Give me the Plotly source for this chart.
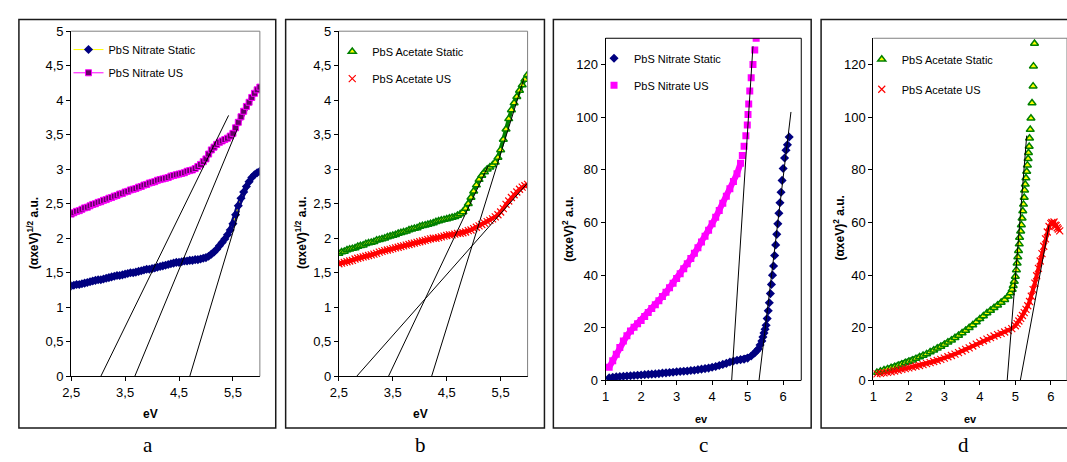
import plotly.graph_objects as go

W, H = 1067, 462

# ---------------- Panel a data ----------------
a_x = [2.50, 2.55, 2.60, 2.65, 2.70, 2.75, 2.80, 2.85, 2.90, 2.95,
       3.00, 3.05, 3.10, 3.15, 3.20, 3.25, 3.30, 3.35, 3.40, 3.45,
       3.50, 3.55, 3.60, 3.65, 3.70, 3.75, 3.80, 3.85, 3.90, 3.95,
       4.00, 4.05, 4.10, 4.15, 4.20, 4.25, 4.30, 4.35, 4.40, 4.45,
       4.50, 4.55, 4.60, 4.65, 4.70, 4.75, 4.80, 4.85, 4.90, 4.95,
       5.00, 5.05, 5.10, 5.15, 5.20, 5.25, 5.30, 5.35, 5.40, 5.45,
       5.50, 5.55, 5.60, 5.65, 5.70, 5.75, 5.80, 5.85, 5.90, 5.95, 6.00]
a_static = [1.31, 1.32, 1.33, 1.33, 1.34, 1.35, 1.36, 1.37, 1.38, 1.39,
            1.40, 1.40, 1.41, 1.42, 1.43, 1.44, 1.45, 1.46, 1.46, 1.47,
            1.48, 1.49, 1.50, 1.50, 1.51, 1.52, 1.53, 1.54, 1.55, 1.55,
            1.56, 1.57, 1.58, 1.59, 1.60, 1.61, 1.62, 1.63, 1.64, 1.65,
            1.65, 1.66, 1.67, 1.67, 1.68, 1.68, 1.69, 1.69, 1.70, 1.71,
            1.72, 1.74, 1.77, 1.80, 1.84, 1.89, 1.94, 1.99, 2.05, 2.12,
            2.21, 2.34, 2.47, 2.58, 2.67, 2.75, 2.82, 2.88, 2.92, 2.95, 2.97]
a_us = [2.35, 2.37, 2.39, 2.40, 2.42, 2.44, 2.45, 2.47, 2.49, 2.50,
        2.52, 2.53, 2.55, 2.56, 2.58, 2.59, 2.61, 2.62, 2.64, 2.65,
        2.67, 2.68, 2.70, 2.71, 2.72, 2.74, 2.75, 2.77, 2.78, 2.80,
        2.81, 2.82, 2.84, 2.85, 2.86, 2.87, 2.88, 2.90, 2.91, 2.92,
        2.93, 2.94, 2.95, 2.97, 2.98, 2.99, 3.01, 3.04, 3.07, 3.11,
        3.15, 3.22, 3.28, 3.32, 3.36, 3.39, 3.41, 3.43, 3.45, 3.48,
        3.52, 3.60, 3.68, 3.76, 3.84, 3.91, 3.97, 4.04, 4.10, 4.15, 4.19]
a_fit_x = [[3.05, 5.42], [3.68, 5.58], [4.70, 5.62]]
a_fit_y = [[0.0, 3.78], [0.0, 3.58], [0.0, 2.40]]
a_yticks = [0, 0.5, 1, 1.5, 2, 2.5, 3, 3.5, 4, 4.5, 5]
a_yticklabels = ["0", "0,5", "1", "1,5", "2", "2,5", "3", "3,5", "4", "4,5", "5"]
ab_xticks = [2.5, 3.5, 4.5, 5.5]
ab_xticklabels = ["2,5", "3,5", "4,5", "5,5"]

# ---------------- Panel b data ----------------
b_x = a_x
b_static = [1.78, 1.80, 1.81, 1.83, 1.84, 1.85, 1.86, 1.88, 1.89, 1.90,
            1.92, 1.93, 1.94, 1.95, 1.97, 1.98, 1.99, 2.00, 2.02, 2.03,
            2.04, 2.05, 2.07, 2.08, 2.09, 2.10, 2.12, 2.13, 2.14, 2.15,
            2.17, 2.18, 2.19, 2.20, 2.21, 2.22, 2.24, 2.25, 2.26, 2.27,
            2.28, 2.29, 2.30, 2.31, 2.33, 2.35, 2.38, 2.43, 2.50, 2.59,
            2.68, 2.77, 2.85, 2.91, 2.96, 3.00, 3.03, 3.06, 3.10, 3.17,
            3.28, 3.43, 3.58, 3.73, 3.86, 3.96, 4.05, 4.14, 4.22, 4.30, 4.37]
b_us = [1.63, 1.64, 1.65, 1.66, 1.67, 1.68, 1.70, 1.71, 1.72, 1.73,
        1.74, 1.75, 1.76, 1.77, 1.78, 1.80, 1.81, 1.82, 1.83, 1.84,
        1.85, 1.86, 1.87, 1.88, 1.89, 1.90, 1.91, 1.92, 1.93, 1.94,
        1.95, 1.96, 1.97, 1.98, 1.99, 2.00, 2.00, 2.01, 2.02, 2.03,
        2.04, 2.05, 2.05, 2.06, 2.07, 2.07, 2.08, 2.09, 2.11, 2.12,
        2.14, 2.16, 2.18, 2.20, 2.22, 2.24, 2.26, 2.28, 2.31, 2.34,
        2.38, 2.43, 2.49, 2.54, 2.59, 2.63, 2.67, 2.71, 2.74, 2.76, 2.78]
b_fit_x = [[2.83, 6.00], [3.42, 5.27], [4.22, 5.93]]
b_fit_y = [[0.0, 2.80], [0.0, 3.05], [0.0, 4.31]]

# ---------------- Panel c data ----------------
c_us_x = [1.1, 1.2, 1.3, 1.4, 1.5, 1.6, 1.7, 1.8, 1.9, 2.0,
          2.1, 2.2, 2.3, 2.4, 2.5, 2.6, 2.7, 2.8, 2.9, 3.0,
          3.1, 3.2, 3.3, 3.4, 3.5, 3.6, 3.7, 3.8, 3.9, 4.0,
          4.1, 4.2, 4.3, 4.4, 4.5, 4.6, 4.7, 4.8, 4.85, 4.9,
          4.95, 4.99, 5.01, 5.03, 5.06, 5.10, 5.15, 5.20, 5.24]
c_us = [5.0, 7.5, 10.0, 12.5, 15.0, 17.0, 18.8, 20.2, 21.5, 22.8,
        24.3, 25.8, 27.3, 28.8, 30.3, 31.9, 33.5, 35.2, 36.9, 38.7,
        40.5, 42.4, 44.3, 46.3, 48.3, 50.4, 52.6, 54.8, 57.1, 59.5,
        62.0, 64.6, 67.3, 70.0, 72.8, 75.6, 78.5, 82.5, 85.5, 89.0,
        93.0, 97.0, 101.0, 105.0, 110.0, 115.0, 120.0, 125.5, 130.0]
c_st_x = [1.1, 1.2, 1.3, 1.4, 1.5, 1.6, 1.7, 1.8, 1.9, 2.0,
          2.1, 2.2, 2.3, 2.4, 2.5, 2.6, 2.7, 2.8, 2.9, 3.0,
          3.1, 3.2, 3.3, 3.4, 3.5, 3.6, 3.7, 3.8, 3.9, 4.0,
          4.1, 4.2, 4.3, 4.4, 4.5, 4.6, 4.7, 4.8, 4.9, 5.0,
          5.1, 5.2, 5.25, 5.30, 5.35, 5.40, 5.43, 5.46, 5.49, 5.52,
          5.55, 5.58, 5.61, 5.64, 5.67, 5.70, 5.73, 5.76, 5.79, 5.82,
          5.85, 5.88, 5.91, 5.94, 5.97, 6.00, 6.04, 6.08, 6.12, 6.17]
c_static = [1.0, 1.2, 1.4, 1.5, 1.6, 1.7, 1.8, 1.9, 2.0, 2.1,
            2.2, 2.3, 2.4, 2.5, 2.6, 2.8, 2.9, 3.0, 3.1, 3.3,
            3.4, 3.5, 3.6, 3.8, 3.9, 4.1, 4.3, 4.5, 4.7, 5.0,
            5.3, 5.7, 6.1, 6.5, 7.0, 7.4, 7.7, 7.9, 8.1, 8.5,
            9.3, 10.5, 11.2, 12.0, 13.5, 15.0, 16.5, 18.0, 19.5, 21.0,
            23.5, 26.5, 29.5, 33.0, 36.5, 40.0, 43.5, 47.5, 51.5, 55.5,
            59.5, 63.5, 67.5, 71.5, 76.0, 80.5, 84.5, 87.5, 89.5, 92.5]
c_fit_x = [[4.55, 5.15], [5.32, 6.22]]
c_fit_y = [[0.0, 127.0], [0.0, 102.0]]
cd_yticks = [0, 20, 40, 60, 80, 100, 120]
cd_xticks = [1, 2, 3, 4, 5, 6]

# ---------------- Panel d data ----------------
d_st_x = [1.1, 1.2, 1.3, 1.4, 1.5, 1.6, 1.7, 1.8, 1.9, 2.0,
          2.1, 2.2, 2.3, 2.4, 2.5, 2.6, 2.7, 2.8, 2.9, 3.0,
          3.1, 3.2, 3.3, 3.4, 3.5, 3.6, 3.7, 3.8, 3.9, 4.0,
          4.1, 4.2, 4.3, 4.4, 4.5, 4.6, 4.7, 4.8, 4.86, 4.91,
          4.94, 4.97, 5.00, 5.03, 5.05, 5.07, 5.09, 5.11, 5.12, 5.15,
          5.17, 5.19, 5.21, 5.23, 5.25, 5.26, 5.28, 5.30, 5.32, 5.34,
          5.36, 5.37, 5.39, 5.40, 5.42, 5.44, 5.47, 5.50, 5.51, 5.54]
d_static = [3.0, 3.5, 4.0, 4.4, 4.8, 5.2, 5.7, 6.2, 6.7, 7.2,
            7.7, 8.3, 8.9, 9.5, 10.1, 10.8, 11.5, 12.2, 12.9, 13.7,
            14.5, 15.3, 16.2, 17.1, 18.0, 19.0, 20.0, 21.1, 22.2, 23.4,
            24.5, 25.6, 26.6, 27.6, 28.6, 29.6, 30.7, 32.0, 33.2, 34.6,
            36.0, 37.6, 39.5, 42.0, 44.5, 46.9, 49.3, 51.8, 54.3, 56.7,
            59.1, 61.6, 64.4, 66.9, 69.5, 72.3, 74.5, 76.9, 79.4, 81.8,
            84.2, 86.5, 88.9, 92.0, 95.3, 99.6, 105.4, 111.8, 119.4, 128.0]
d_us_x = [1.1, 1.2, 1.3, 1.4, 1.5, 1.6, 1.7, 1.8, 1.9, 2.0,
          2.1, 2.2, 2.3, 2.4, 2.5, 2.6, 2.7, 2.8, 2.9, 3.0,
          3.1, 3.2, 3.3, 3.4, 3.5, 3.6, 3.7, 3.8, 3.9, 4.0,
          4.1, 4.2, 4.3, 4.4, 4.5, 4.6, 4.7, 4.8, 4.9, 5.0,
          5.05, 5.10, 5.15, 5.20, 5.25, 5.30, 5.35, 5.40, 5.45, 5.50,
          5.55, 5.60, 5.65, 5.70, 5.75, 5.80, 5.85, 5.90, 5.95, 6.00,
          6.03, 6.06, 6.09, 6.12, 6.15, 6.18, 6.21, 6.25]
d_us = [2.5, 2.7, 2.9, 3.1, 3.3, 3.6, 3.9, 4.2, 4.5, 4.8,
        5.1, 5.4, 5.7, 6.0, 6.4, 6.8, 7.2, 7.6, 8.0, 8.5,
        9.0, 9.5, 10.0, 10.6, 11.2, 11.8, 12.4, 13.1, 13.8, 14.5,
        15.1, 15.7, 16.3, 16.9, 17.4, 17.9, 18.4, 19.0, 19.7, 20.8,
        21.6, 22.6, 23.6, 24.7, 25.8, 27.0, 28.4, 30.0, 32.0, 34.5,
        37.0, 39.8, 42.6, 45.4, 48.2, 51.0, 53.8, 56.4, 58.5, 59.6,
        60.0, 59.5, 60.2, 59.0, 58.8, 58.0, 57.5, 56.8]
d_fit_x = [[4.77, 5.32], [5.14, 5.95]]
d_fit_y = [[0.0, 93.0], [0.0, 59.0]]

# ---------------- helpers ----------------
def px(x):
    return x / W

def py(y):
    return 1 - y / H

NAVY = "#000080"
MAG = "#FF00FF"
GREEN = "#008000"
RED = "#FF0000"
YEL = "#FFFF00"
FONT = "Liberation Sans, Arial, sans-serif"

fig = go.Figure()

def fits(xs, ys, xa, ya):
    for fx, fy in zip(xs, ys):
        fig.add_trace(go.Scatter(x=fx, y=fy, mode="lines", xaxis=xa, yaxis=ya,
                                 line=dict(color="black", width=1), showlegend=False,
                                 hoverinfo="skip"))

def band(xs, ys, xa, ya, color, width):
    # dense markers in the original merge into a solid band
    fig.add_trace(go.Scatter(x=xs, y=ys, mode="lines", xaxis=xa, yaxis=ya,
                             line=dict(color=color, width=width), showlegend=False,
                             hoverinfo="skip"))

# panel a
band(a_x, a_static, "x", "y", NAVY, 5)
band(a_x, a_us, "x", "y", "#6a006a", 5)
fig.add_trace(go.Scatter(x=a_x, y=a_static, mode="lines+markers", name="PbS Nitrate Static",
                         xaxis="x", yaxis="y", legend="legend",
                         line=dict(color=YEL, width=1),
                         marker=dict(symbol="diamond", size=7, color=NAVY, line=dict(width=0))))
fig.add_trace(go.Scatter(x=a_x, y=a_us, mode="lines+markers", name="PbS Nitrate US",
                         xaxis="x", yaxis="y", legend="legend2",
                         line=dict(color=MAG, width=1),
                         marker=dict(symbol="square", size=6, color="#660066",
                                     line=dict(color=MAG, width=1))))
fits(a_fit_x, a_fit_y, "x", "y")
# panel b
band(b_x, b_static, "x2", "y2", GREEN, 4)
band(b_x, b_us, "x2", "y2", RED, 4)
fig.add_trace(go.Scatter(x=b_x, y=b_static, mode="markers", name="PbS Acetate Static",
                         xaxis="x2", yaxis="y2", legend="legend3",
                         marker=dict(symbol="triangle-up", size=7, color=YEL,
                                     line=dict(color=GREEN, width=1.5))))
fig.add_trace(go.Scatter(x=b_x, y=b_us, mode="markers", name="PbS Acetate US",
                         xaxis="x2", yaxis="y2", legend="legend4",
                         marker=dict(symbol="x-thin", size=7, color=RED,
                                     line=dict(color=RED, width=1.2))))
fits(b_fit_x, b_fit_y, "x2", "y2")
# panel c
band(c_st_x[:42], c_static[:42], "x3", "y3", NAVY, 5)
band(c_us_x[:38], c_us[:38], "x3", "y3", MAG, 6)
fig.add_trace(go.Scatter(x=c_st_x, y=c_static, mode="markers", name="PbS Nitrate Static",
                         xaxis="x3", yaxis="y3", legend="legend5",
                         marker=dict(symbol="diamond", size=7, color=NAVY, line=dict(width=0))))
fig.add_trace(go.Scatter(x=c_us_x, y=c_us, mode="markers", name="PbS Nitrate US",
                         xaxis="x3", yaxis="y3", legend="legend6",
                         marker=dict(symbol="square", size=7, color=MAG, line=dict(width=0))))
fits(c_fit_x, c_fit_y, "x3", "y3")
# panel d
band(d_st_x[:38], d_static[:38], "x4", "y4", GREEN, 5)
band(d_us_x, d_us, "x4", "y4", RED, 4)
fig.add_trace(go.Scatter(x=d_st_x, y=d_static, mode="markers", name="PbS Acetate Static",
                         xaxis="x4", yaxis="y4", legend="legend7",
                         marker=dict(symbol="triangle-up", size=7, color=YEL,
                                     line=dict(color=GREEN, width=1.5))))
fig.add_trace(go.Scatter(x=d_us_x, y=d_us, mode="markers", name="PbS Acetate US",
                         xaxis="x4", yaxis="y4", legend="legend8",
                         marker=dict(symbol="x-thin", size=7, color=RED,
                                     line=dict(color=RED, width=1.2))))
fits(d_fit_x, d_fit_y, "x4", "y4")

# ---------------- axes ----------------
def axis(domain, rng, tickvals, ticktext=None, anchor=None):
    d = dict(domain=domain, range=rng, tickmode="array", tickvals=tickvals,
             showline=True, linecolor="black", linewidth=1, ticks="outside",
             ticklen=4, tickcolor="black", showgrid=False, zeroline=False,
             tickfont=dict(family=FONT, size=13, color="black"), anchor=anchor)
    if ticktext is not None:
        d["ticktext"] = ticktext
    return d

ab_y = [py(381.7), py(25.0)]
cd_y = [py(386.0), py(32.3)]
dom_a = [px(62.7), px(253.0)]
dom_b = [px(332.7), px(523.0)]
dom_c = [px(601.7), px(799.0)]
dom_d = [px(871.7), 1.0]

fig.update_layout(
    xaxis=axis(dom_a, [2.5, 6.0], ab_xticks, ab_xticklabels, "y"),
    yaxis=axis(ab_y, [0, 5], a_yticks, a_yticklabels, "x"),
    xaxis2=axis(dom_b, [2.5, 6.0], ab_xticks, ab_xticklabels, "y2"),
    yaxis2=axis(ab_y, [0, 5], a_yticks, a_yticklabels, "x2"),
    xaxis3=axis(dom_c, [1, 6.51], cd_xticks, None, "y3"),
    yaxis3=axis(cd_y, [0, 130], cd_yticks, None, "x3"),
    xaxis4=axis(dom_d, [1, 1 + (W - 871.7) / 35.8], cd_xticks, None, "y4"),
    yaxis4=axis(cd_y, [0, 130], cd_yticks, None, "x4"),
)

# ---------------- legends ----------------
# (legend left edge in px, text centre line in px)
leg_pos = {
    "legend": (60, 44), "legend2": (60, 68),
    "legend3": (326, 46), "legend4": (326, 74),
    "legend5": (590, 53), "legend6": (590, 81),
    "legend7": (860, 54), "legend8": (860, 85),
}
for k, (lx, ty) in leg_pos.items():
    fig.layout[k] = dict(x=px(lx), y=py(ty), xanchor="left", yanchor="middle",
                         bgcolor="rgba(0,0,0,0)", borderwidth=0,
                         font=dict(family=FONT, size=11, color="black"),
                         itemwidth=30)

# ---------------- frames / borders ----------------
shapes = []
frames = [(10, 13, 269, 435), (279, 13, 540, 435), (549, 13, 809, 435), (819, 13, 1075, 435)]
for x0, y0, x1, y1 in frames:
    shapes.append(dict(type="rect", xref="paper", yref="paper",
                       x0=px(x0), x1=px(x1), y0=py(y1), y1=py(y0),
                       line=dict(color="#1a1a1a", width=1.5)))
borders = [("x domain", "y domain", "#808080"), ("x2 domain", "y2 domain", "#808080"),
           ("x3 domain", "y3 domain", "black"), ("x4 domain", "y4 domain", "#808080")]
for xr, yr, col in borders:
    shapes.append(dict(type="line", xref=xr, yref=yr, x0=0, x1=1, y0=1, y1=1,
                       line=dict(color=col, width=1)))
    shapes.append(dict(type="line", xref=xr, yref=yr, x0=1, x1=1, y0=0, y1=1,
                       line=dict(color=col, width=1)))

# ---------------- texts ----------------
ann = []
def text(x, y, s, size, angle=0, family=FONT):
    ann.append(dict(x=px(x), y=py(y), xref="paper", yref="paper", text=s, showarrow=False,
                    textangle=angle, xanchor="center", yanchor="middle",
                    font=dict(family=family, size=size, color="black")))

ytitle_half = "<b>(αxeV)<sup>1/2</sup> a.u.</b>"
ytitle_sq = "<b>(αxeV)<sup>2</sup> a.u.</b>"
text(25, 234, ytitle_half, 12, -90)
text(295, 234, ytitle_half, 12, -90)
text(563, 230, ytitle_sq, 12, -90)
text(837, 228, ytitle_sq, 12, -90)
text(143, 421, "<b>eV</b>", 12)
text(415, 421, "<b>eV</b>", 12)
text(698, 426, "<b>ev</b>", 11)
text(970, 426, "<b>ev</b>", 11)
serif = "Liberation Serif, Times New Roman, serif"
text(140, 453, "a", 21, family=serif)
text(415, 453, "b", 21, family=serif)
text(700, 453, "c", 21, family=serif)
text(963, 453, "d", 21, family=serif)

fig.update_layout(width=W, height=H, margin=dict(l=0, r=0, t=0, b=0),
                  paper_bgcolor="white", plot_bgcolor="white",
                  shapes=shapes, annotations=ann, font=dict(family=FONT))

fig.write_html("out.html")
